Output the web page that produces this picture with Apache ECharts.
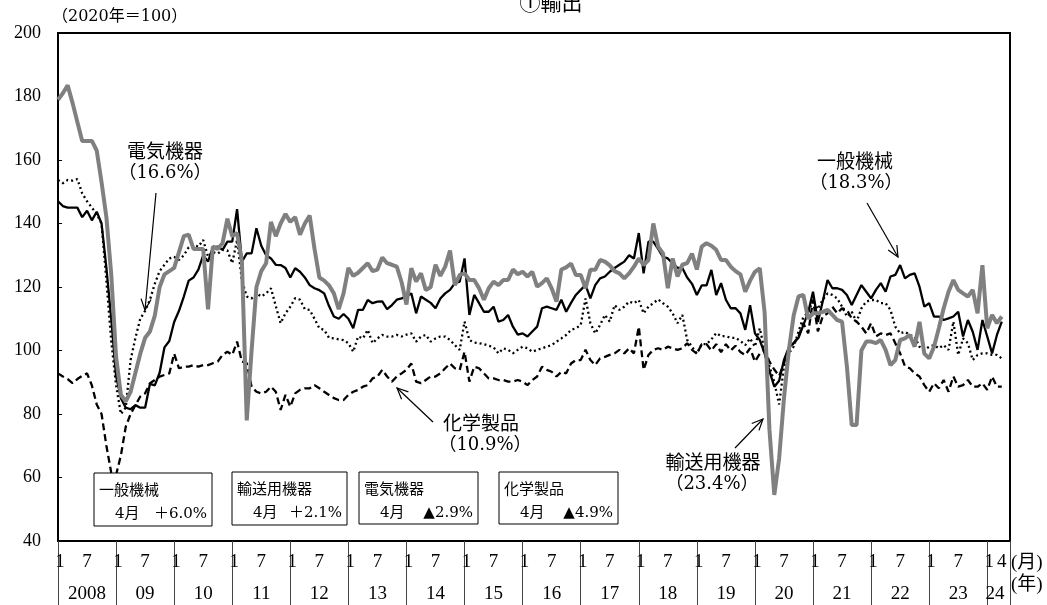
<!DOCTYPE html>
<html><head><meta charset="utf-8">
<script src="https://cdn.jsdelivr.net/npm/echarts@6/dist/echarts.min.js"></script>
<style>html,body{margin:0;padding:0;background:#fff;}#c{width:1047px;height:605px;}</style>
</head><body><div id="c"></div>
<script>
// 2008/1 .. 2024/4 monthly indices (2020=100)
const ippanKikai = [
147,145.5,145,145,145,142,144,141,143.7,140,126,110,
92,85,82,81.5,82.8,82,82,89.5,89,93,101,103,
109,112.5,117,122,123,125.5,130,128,132.5,132.7,131.7,134.3,
134.3,144.5,128,130.6,130.6,138.5,133,130,129,127,126.9,126,
123,125.9,124.8,123,120.6,119.6,119,118,114,110.7,110,111.5,
110,107,112.8,112.8,115.9,114.9,115.4,115.5,113,114.3,116,116.4,
117,118,111.7,117,116,115,113.3,116.4,118,119.1,121.2,121.7,
129,111.2,117.5,114.9,112.2,112.2,113.8,109.1,109.6,111.2,107.5,105,
105.4,104.4,106,107.5,113.3,113.8,113.3,112.8,116,112.2,115,117.5,
119.1,120.6,116.4,120.6,122.7,123.3,124.8,126,127,128,130,129,
137,124.3,134.3,134.3,132,129.5,129,127.4,126,126,123,121,
117.5,120.5,120.5,125.4,117.5,121.2,116,113.3,113.3,111.7,106.5,114.3,
105.4,103.3,99.1,93.5,88.6,90.5,97,101,102.3,104,108,112,
118.5,109,115.4,122.2,119.6,119.6,119.1,117.5,114.3,117.5,120.6,118.5,
116.4,119.1,121.2,118.5,123.3,123.8,126.9,122.7,123.8,124.3,120.1,113.8,
114.9,110.7,110.7,109.6,110.1,110.7,112.2,104.4,109.6,105.9,100.2,109.6,
104.4,99.1,104.9,109.1];
const yusoKiki = [
179,181,183.5,178,172,166,166,166,163,153,142,124,
98,86,84,87,93,99,104,106,111,120,124,125,
126,131,136,136.5,132,132,132,113,132.7,132,133.8,141.5,
136,137,128,78,100,120,125,127.5,140.5,136,140,143,
140.5,142,136.5,140,142.5,132,123,122,120.5,118,113,118,
126,123.5,124.5,126,127.5,125,125.5,129.3,127.5,127,126.4,121.5,
114.5,125.9,121.7,124.3,119,120,127,123.5,126.4,131.5,120.6,123.8,
124.3,122.2,122.2,119.6,116,119.6,121.7,120.6,122.2,122.2,125.5,124,
124.8,123.3,124.8,120.1,121.2,122.7,119.6,115.4,125.5,126.2,127.4,123.8,
123.8,119.6,125.4,125.4,128.5,128,126.8,125,124.3,122.7,124.3,126.4,
129,126.9,128.5,140,132.7,130.6,119.6,129,123.3,127,127.5,130.5,
125.5,132.7,133.8,133,131.7,128.5,128.5,126.4,125,124,118.5,122,
124.8,125.9,112,75,54.5,66,85,100,111,117,117.5,110,
111.7,111.7,112.2,112.8,111.2,109.6,109.1,95,76.5,76.5,100,102.8,
102.8,102.3,103.3,100.2,95.4,97,103.3,103.8,104.9,101.2,109,99,
97.5,101.2,107,113.3,118.5,122.2,119.1,118,117,119.1,111.7,126.9,
107,111.2,108.6,110.7];
const denkiKiki = [
153.7,152.7,153.7,153.5,154,149.5,147,145,143,140,122,103,
89,80,82,97,104,110,112.5,116,121,125,127,129,
129.5,128.5,130,132.5,133.2,132.7,134.8,129.6,131,130.5,131.7,131.5,
127.5,134.8,122,117,116.4,118,117,118,119.6,114,108.6,111.7,
113.8,116.5,116,113,112.8,110,107,106.5,104,103.8,103.5,103.3,
102.3,99.6,104.4,103.8,106.5,102.3,103.8,104.9,104.4,104.4,104.9,104.4,
105,105.4,102.8,104.4,104.9,102.8,103.8,104.4,104.4,103.3,101.7,100.2,
109.1,103.3,102.5,102.3,102,101.5,101,99.1,100.7,100.2,99.1,100.2,
101.2,100.7,99.6,100.2,100.7,101.2,101.7,102.8,103.8,104.9,106.5,107,
108,116.4,108.6,105.4,108,111.2,109.1,114.3,112.8,113.8,115.4,114.9,
115.9,111.7,113.8,114.9,116.1,114.9,113.8,111.7,108.6,111.2,103.3,101.2,
99,102,102,103.5,105.5,104.5,104.5,104,104,103,101.7,103.8,
101.2,107,100,95,90,83,94.9,99.1,101.2,105.9,110.5,112,
115.9,113,116,118,117.5,116.4,113.8,110.7,112.2,109,113.3,115.4,
115.9,115.9,114.9,114.9,112.8,107.5,105.4,105.9,104.9,104.4,101.2,100.2,
101.2,101.7,100.7,101.7,100.2,109.1,98.6,103.8,102.3,97,98.6,99.1,
99.1,98.6,98.6,97.5];
const kagakuSeihin = [
92.8,91.8,91,89.7,91,92,92.8,89,83,80,70,61.5,
60.8,67,76,80,82.8,85.5,86.5,89.7,90.7,91.8,92.3,92.8,
99,94.4,94.9,94.9,95.4,94.9,95.4,95.4,96,96.5,98.6,99.6,
98.6,102.8,96.5,96,88.6,87,86.5,87,88.6,87,81.3,86,
82.3,86.5,87.6,88.1,88.1,89.1,88.1,87,86,85,84.4,84.4,
86,87,87.6,88.6,89.1,91.2,91.8,93.9,91.8,90.2,91.8,92.8,
93.9,95.9,90.2,89.7,90.7,91.8,91.8,92.8,94.4,95.9,94.4,93.9,
99.6,90.2,94.9,94.4,92.8,91.2,91.2,90.7,90.7,90.2,90.2,90.7,
90.2,89.1,90.7,91.8,94.9,93.9,93.3,91.8,93.3,92.8,95.9,97,
97,100.2,97,95.4,97.5,98,98.6,99.1,100.2,99.1,100.7,99.1,
107.5,93.9,98.6,100.2,100.7,100.2,101.2,100.7,100.2,100.7,102.3,100.2,
99,102,102,100,102,99.5,102,100,101.5,99.5,98.6,100.7,
96.5,99,100.2,96.5,94,92,96,100.2,102.3,104.4,108.6,105.4,
116,106,110.7,111.7,113.8,111.7,113.3,112.8,110.1,109.1,107.5,105.4,
108.6,104.4,105.4,104.9,105.4,102.3,99.1,95,94.4,92.8,91.8,89.1,
87,89.7,88.1,90.7,87,91.8,88.6,89.1,90.7,88.6,88.6,89.7,
87.6,91.8,88.6,88.6];
const yearLabels = ['2008','09','10','11','12','13','14','15','16','17','18','19','20','21','22','23','24'];
const monthLabels = ['1','7'];
const lastMonthLabel = '4';

const XMAX = 196.7;
const serif = '"Liberation Serif","Noto Sans CJK JP",serif';
const dserif = '"DejaVu Serif","Noto Sans CJK JP",serif';
const jp = '"Noto Sans CJK JP","Liberation Serif",sans-serif';

const pairs = arr => arr.map((v,i)=>[i,v]);
const yearStarts = yearLabels.map((_,k)=>k*12).concat([XMAX-0.01]);
const monthPos = [];
yearLabels.forEach((_,k)=>{ monthPos.push(k*12+0.4); if(k*12+6 < ippanKikai.length) monthPos.push(k*12+6); });
monthPos.push(ippanKikai.length-1);
const yearPos = yearLabels.map((_,k)=> k<16 ? k*12+6 : 193.6);

function arrow(x1,y1,x2,y2){
  const dx=x2-x1, dy=y2-y1, L=Math.hypot(dx,dy), ux=dx/L, uy=dy/L, hl=11, hw=5;
  const bx=x2-ux*hl, by=y2-uy*hl;
  return [
    {type:'line', shape:{x1:x1,y1:y1,x2:x2,y2:y2}, style:{stroke:'#000',lineWidth:1.2}, z:100},
    {type:'polyline', shape:{points:[[bx-uy*hw,by+ux*hw],[x2,y2],[bx+uy*hw,by-ux*hw]]}, style:{stroke:'#000',fill:null,lineWidth:1.2}, z:100}
  ];
}
function txt(x,y,t,size,align,family){
  return {type:'text', x:x, y:y, z:100, style:{text:t, fontSize:size, fontFamily:family||dserif, fill:'#000', textAlign:align||'center', textVerticalAlign:'middle'}};
}
function box(x,y,w,h,title,val){
  return [
    {type:'rect', shape:{x:x,y:y,width:w,height:h}, style:{stroke:'#000',lineWidth:1,fill:'#fff'}, z:90},
    txt(x+5,y+16,title,15,'left',jp),
    txt(x+21,y+41,'4月',15,'left'),
    txt(x+w-5,y+41,val,15,'right')
  ];
}

const graphics = [].concat(
  [txt(551,2,'①輸出',21,'center',jp)],
  [txt(52,17,'（2020年＝100）',16,'left')],
  [txt(1011,563,'(月)',19,'left',serif), txt(1011,585,'(年)',19,'left',serif)],
  box(94,473,118,53,'一般機械','＋6.0%'),
  box(232,472,115,53,'輸送用機器','＋2.1%'),
  box(359,472,119,52,'電気機器','▲2.9%'),
  box(499,472,119,52,'化学製品','▲4.9%'),
  [txt(165,151,'電気機器',19,'center',jp), txt(165,173,'（16.6%）',18)],
  arrow(156,193,145,310),
  [txt(855,161,'一般機械',19,'center',jp), txt(856,183,'（18.3%）',18)],
  arrow(867,203,898,257),
  [txt(481,423,'化学製品',19,'center',jp), txt(485,445,'（10.9%）',18)],
  arrow(433,422,397,388),
  [txt(713,462,'輸送用機器',19,'center',jp), txt(712,484,'（23.4%）',18)],
  arrow(735,448,763,419)
);

const chart = echarts.init(document.getElementById('c'));
chart.setOption({
  animation:false,
  backgroundColor:'#fff',
  grid:{left:58,right:37,top:33,bottom:64,show:true,borderColor:'#000',borderWidth:2,containLabel:false},
  xAxis:[
    {type:'value', min:0, max:XMAX, position:'bottom',
     axisLine:{show:true,onZero:false,lineStyle:{color:'#000',width:2}},
     splitLine:{show:false},
     axisTick:{show:true, inside:false, length:64, customValues:yearStarts, lineStyle:{color:'#444',width:1}},
     axisLabel:{show:true, customValues:monthPos, margin:12, fontSize:19, fontFamily:serif, color:'#000',
       formatter:function(v){ const r=Math.round(v); if(r===ippanKikai.length-1) return lastMonthLabel; return r%12===0?monthLabels[0]:monthLabels[1]; }}
    },
    {type:'value', min:0, max:XMAX, position:'bottom',
     axisLine:{show:false}, axisTick:{show:false}, splitLine:{show:false},
     axisLabel:{show:true, customValues:yearPos, margin:44, fontSize:19, fontFamily:serif, color:'#000',
       formatter:function(v){ return yearLabels[Math.min(Math.floor(v/12),16)]; }}
    }
  ],
  yAxis:{type:'value', min:40, max:200, interval:20,
    axisLine:{show:true,lineStyle:{color:'#000',width:2}},
    axisTick:{show:true,inside:true,length:4,lineStyle:{color:'#000'}},
    splitLine:{show:false},
    axisLabel:{margin:17,fontSize:18,fontFamily:serif,color:'#000'}
  },
  series:[
    {name:'化学製品',type:'line',data:pairs(kagakuSeihin),showSymbol:false,z:2,
     lineStyle:{color:'#000',width:2.3,type:[7,4]}},
    {name:'電気機器',type:'line',data:pairs(denkiKiki),showSymbol:false,z:3,
     lineStyle:{color:'#000',width:2.3,type:[2,3]}},
    {name:'一般機械',type:'line',data:pairs(ippanKikai),showSymbol:false,z:4,
     lineStyle:{color:'#000',width:2.3}},
    {name:'輸送用機器',type:'line',data:pairs(yusoKiki),showSymbol:false,z:5,
     lineStyle:{color:'#808080',width:4}}
  ],
  graphic:graphics
});
</script></body></html>
